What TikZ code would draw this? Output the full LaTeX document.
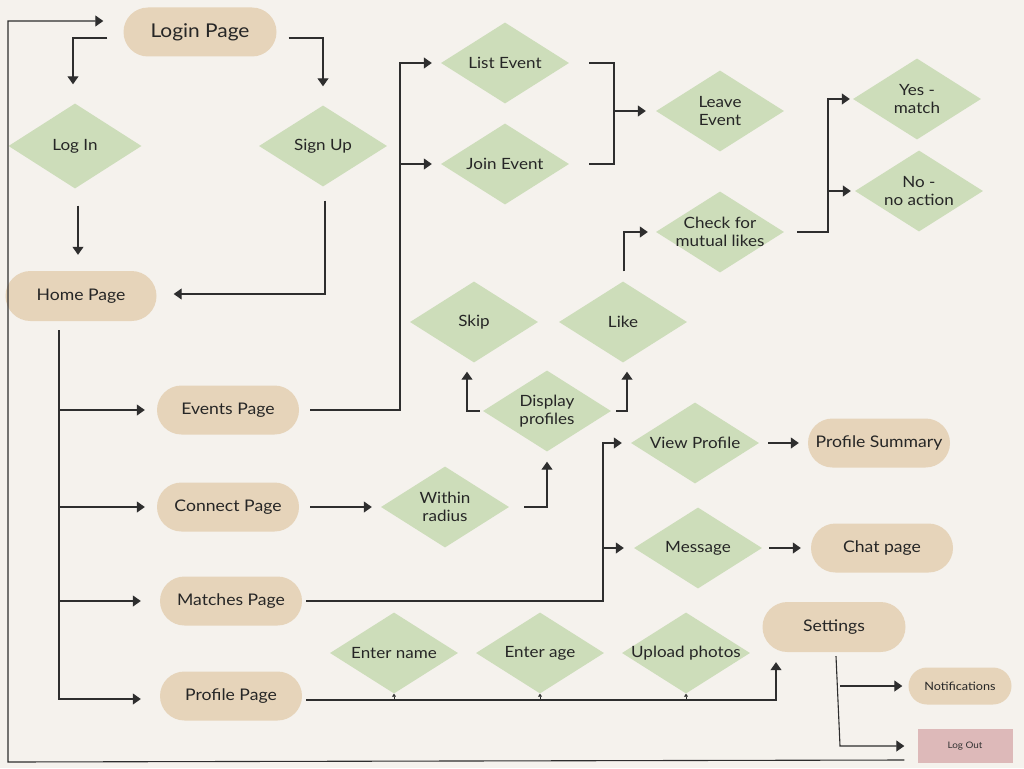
\documentclass[tikz,border=0pt]{standalone}
\usepackage{fontspec}
\setmainfont{Lato}[FakeStretch=1.1]
\usepackage{tikz}
\usetikzlibrary{shapes.geometric, shapes.misc, arrows.meta, positioning, calc}

\definecolor{bgcream}{HTML}{F5F2ED}
\definecolor{pillbeige}{HTML}{E6D4BA}
\definecolor{leafgreen}{HTML}{CDDDBA}
\definecolor{rosepink}{HTML}{DDB9B9}
\definecolor{lineink}{HTML}{2E2E2E}

\begin{document}
\begin{tikzpicture}[
  x=1pt, y=-1pt,
  page/.style={rounded rectangle, fill=pillbeige, inner sep=0pt, minimum width=142pt, minimum height=49pt, font=\fontsize{16}{18}\selectfont, text=black!85},
  choice/.style={diamond, fill=leafgreen, inner xsep=-30pt, inner ysep=-12pt, minimum width=128pt, minimum height=81pt, align=center, font=\fontsize{15.5}{18}\selectfont, text=black!85},
  line/.style={draw=lineink, line width=1.1pt},
  arrow/.style={line, -{Triangle[width=11pt,length=8pt]}},
  tinyarrow/.style={line, line width=0.7pt, -{Triangle[width=4pt,length=3pt]}}
]
  \fill[bgcream] (0,0) rectangle (1024,768);
  \useasboundingbox (0,0) rectangle (1024,768);

  % pages
  \node[page, minimum width=153pt, font=\fontsize{19}{22}\selectfont] (login) at (200,32) {Login Page};
  \node[page, minimum width=151pt, minimum height=50pt] (home) at (81,296) {Home Page};
  \node[page] (events) at (228,410) {Events Page};
  \node[page] (connect) at (228,507) {Connect Page};
  \node[page] (matches) at (231,601) {Matches Page};
  \node[page] (profilePg) at (231,696) {Profile Page};
  \node[page] (profSum) at (879,443) {Profile Summary};
  \node[page] (chat) at (882,548) {Chat page};
  \node[page, minimum width=143pt, minimum height=50pt] (settings) at (834,627) {Settings};
  \node[page, minimum width=103pt, minimum height=37pt, font=\fontsize{11.5}{13}\selectfont] (notif) at (960,686) {Notifications};
  \node[rectangle, fill=rosepink, minimum width=95pt, minimum height=34pt, inner sep=0pt, font=\fontsize{9}{11}\selectfont, text=black!80] (logOut) at (965,746) {Log Out};

  % choices
  \node[choice, minimum width=133pt, minimum height=85pt] (logIn) at (75,146) {Log In};
  \node[choice] (signUp) at (323,146) {Sign Up};
  \node[choice] (listEv) at (505,63) {List Event};
  \node[choice] (joinEv) at (505,164) {Join Event};
  \node[choice] (leaveEv) at (720,111) {Leave\\Event};
  \node[choice] (yesMatch) at (917,99) {Yes -\\match};
  \node[choice] (noMatch) at (919,191) {No -\\no action};
  \node[choice] (check) at (720,232) {Check for\\mutual likes};
  \node[choice] (skip) at (474,322) {Skip};
  \node[choice] (like) at (623,322) {Like};
  \node[choice] (display) at (547,411) {Display\\profiles};
  \node[choice] (viewProf) at (695,443) {View Profile};
  \node[choice] (message) at (698,548) {Message};
  \node[choice] (within) at (445,507) {Within\\radius};
  \node[choice] (enterName) at (394,653) {Enter name};
  \node[choice] (enterAge) at (540,653) {Enter age};
  \node[choice] (upload) at (686,653) {Upload photos};

  % bends
  \coordinate (trunkTop) at (59,330);
  \coordinate (loopCorner) at (8,762);
  \coordinate (eventsBus) at (400,0);
  \coordinate (leaveBus) at (614,0);
  \coordinate (matchBus) at (828,0);
  \coordinate (matchesBus) at (603,0);
  \coordinate (settingsBus) at (840,0);

  % login flow
  \draw[arrow] ([xshift=-16pt,yshift=-6pt]login.west) -| ([xshift=-2pt,yshift=19pt]logIn.north);
  \draw[arrow] ([xshift=12pt,yshift=-6pt]login.east) -| ([yshift=19pt]signUp.north);
  \draw[arrow] ([xshift=3pt,yshift=-17pt]logIn.south) -- ([xshift=-3pt,yshift=16pt]home.north);
  \draw[arrow] ([xshift=2pt,yshift=-14pt]signUp.south) |- ([xshift=17pt,yshift=2pt]home.east);
  \draw[arrow] ([xshift=-13pt,yshift=-14pt]logOut.west) -- (loopCorner) |- ([xshift=-20pt,yshift=11pt]login.west);

  % home branches
  \draw[arrow] (trunkTop) |- ([xshift=-19pt,yshift=-3pt]profilePg.west);
  \draw[arrow] (trunkTop |- events) -- ([xshift=-12pt]events.west);
  \draw[arrow] (trunkTop |- connect) -- ([xshift=-12pt]connect.west);
  \draw[arrow] (trunkTop |- matches) -- ([xshift=-19pt]matches.west);

  % events
  \draw[arrow] ([xshift=11pt]events.east) -| (eventsBus |- listEv) -- ([xshift=-9pt]listEv.west);
  \draw[arrow] (eventsBus |- joinEv) -- ([xshift=-9pt]joinEv.west);
  \draw[line] ([xshift=20pt]listEv.east) -| (leaveBus |- joinEv) -- ([xshift=20pt]joinEv.east);
  \draw[arrow] (leaveBus |- leaveEv) -- ([xshift=-10pt]leaveEv.west);

  % connect
  \draw[arrow] ([xshift=11pt]connect.east) -- ([xshift=-9pt]within.west);
  \draw[arrow] ([xshift=15pt]within.east) -| ([yshift=-10pt]display.south);
  \draw[arrow] ([xshift=-3pt]display.west) -| ([xshift=-7pt,yshift=-9pt]skip.south);
  \draw[arrow] ([xshift=5pt]display.east) -| ([xshift=4pt,yshift=-9pt]like.south);
  \draw[arrow] ([xshift=1pt,yshift=10pt]like.north) |- ([xshift=-8pt]check.west);
  \draw[arrow] ([xshift=13pt]check.east) -| (matchBus |- yesMatch) -- ([xshift=-3pt]yesMatch.west);
  \draw[arrow] (matchBus |- noMatch) -- ([xshift=-4pt]noMatch.west);

  % matches
  \draw[arrow] ([xshift=4pt]matches.east) -| (matchesBus |- viewProf) -- ([xshift=-9pt]viewProf.west);
  \draw[arrow] (matchesBus |- message) -- ([xshift=-10pt]message.west);
  \draw[arrow] ([xshift=9pt]viewProf.east) -- ([xshift=-9pt]profSum.west);
  \draw[arrow] ([xshift=7pt]message.east) -- ([xshift=-10pt]chat.west);

  % profile
  \draw[arrow] ([xshift=4pt,yshift=-4pt]profilePg.east) -| ([xshift=-58pt,yshift=-10pt]settings.south);
  \draw[tinyarrow] ([yshift=-7pt]enterName.south) -- (enterName.south);
  \draw[tinyarrow] ([yshift=-7pt]enterAge.south) -- (enterAge.south);
  \draw[tinyarrow] ([yshift=-7pt]upload.south) -- (upload.south);

  % settings
  \draw[arrow] ([xshift=2pt,yshift=-4pt]settings.south) -- (settingsBus |- logOut) -- ([xshift=-13pt]logOut.west);
  \draw[arrow] (settingsBus |- notif) -- ([xshift=-6pt]notif.west);
\end{tikzpicture}
\end{document}
